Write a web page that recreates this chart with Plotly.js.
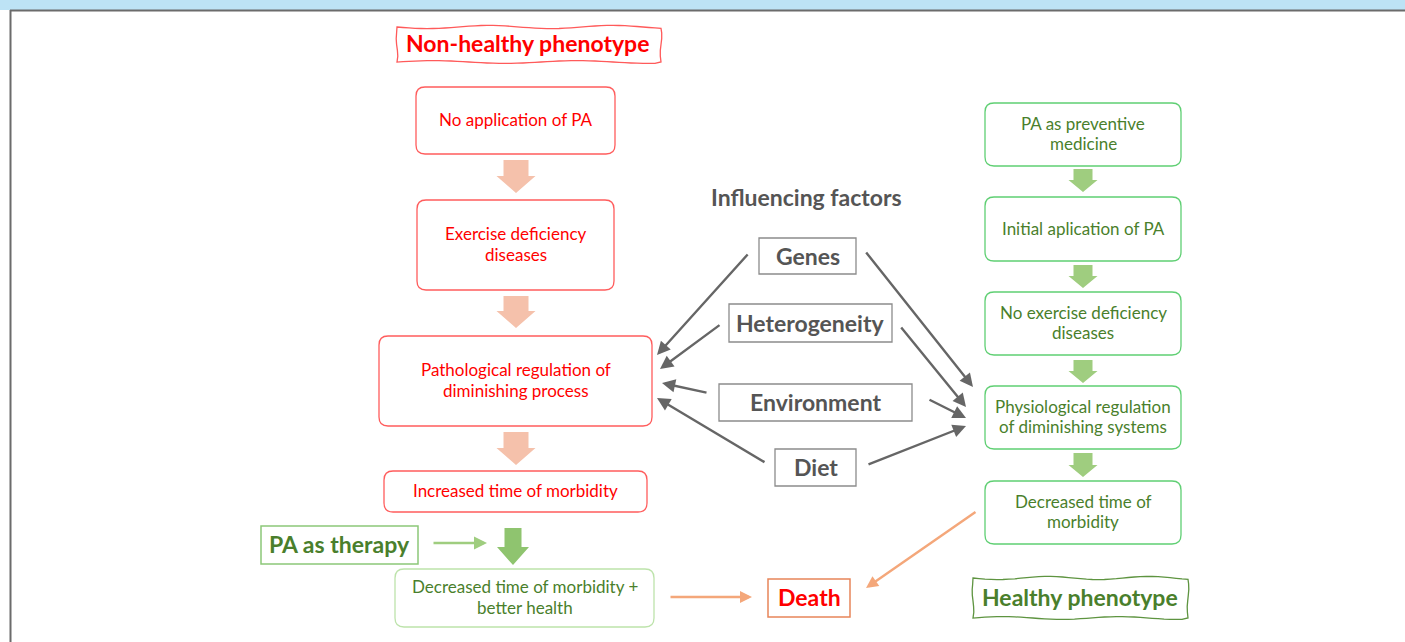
<!DOCTYPE html>
<html>
<head>
<meta charset="utf-8">
<script src="https://cdn.plot.ly/plotly-3.0.1.min.js"></script>
<style>html,body{margin:0;padding:0;background:#fff;}#chart{width:1405px;height:642px;}</style>
</head>
<body>
<div id="chart"></div>
<script>
// ---- Diagram content (text) ----
var headerRed = "Non-healthy phenotype";
var headerGreen = "Healthy phenotype";
var factorsTitle = "Influencing factors";
var redSteps = ["No application of PA", "Exercise deficiency<br>diseases", "Pathological regulation of<br>diminishing process", "Increased time of morbidity"];
var greenSteps = ["PA as preventive<br>medicine", "Initial aplication of PA", "No exercise deficiency<br>diseases", "Physiological regulation<br>of diminishing systems", "Decreased time of<br>morbidity"];
var factors = ["Genes", "Heterogeneity", "Environment", "Diet"];
var therapyLabel = "PA as therapy";
var therapyOutcome = "Decreased time of morbidity +<br>better health";
var endLabel = "Death";

// ---- Geometry (pixel layout) ----
var redBoxes = [[416,87,615,154],[417,200,614,290],[379,336,652,426],[384,471,647,512]];
var greenBoxes = [[985,103,1181,166],[985,197,1181,261],[985,292,1181,355],[985,386,1181,449],[985,481,1181,544]];
var factorBoxes = [[759,238,856,274],[729,304,892,342],[719,384,912,421],[775,449,856,486]];
var redArrowsY = [[160,193],[296,328],[432,465]];
var greenArrowsY = [[169,192],[265,288],[360,383],[453,477]];
var leftArrows = [[749,253,657,355],[721,324,660,369],[708,393,662,383],[766,463,657,398]];
var rightArrows = [[865,251,973,387],[900,326,966,407],[928,399,966,418],[867,465,966,426]];

var FONT = "Lato, 'Open Sans', sans-serif";
var RED = "#ff0000", DGREEN = "#4a7f2c", GRAY = "#555555";
var NS = 17, BS = 23, LINE = 20.5;

function roundRect(b, r){
  var x0=b[0],y0=b[1],x1=b[2],y1=b[3];
  return "M"+(x0+r)+","+y0+" L"+(x1-r)+","+y0+" Q"+x1+","+y0+" "+x1+","+(y0+r)+
    " L"+x1+","+(y1-r)+" Q"+x1+","+y1+" "+(x1-r)+","+y1+
    " L"+(x0+r)+","+y1+" Q"+x0+","+y1+" "+x0+","+(y1-r)+
    " L"+x0+","+(y0+r)+" Q"+x0+","+y0+" "+(x0+r)+","+y0+" Z";
}
function blockDown(cx, y0, y1, sw, hw, hh){
  return "M"+(cx-sw/2)+","+y0+" L"+(cx+sw/2)+","+y0+" L"+(cx+sw/2)+","+(y1-hh)+
    " L"+(cx+hw/2)+","+(y1-hh)+" L"+cx+","+y1+" L"+(cx-hw/2)+","+(y1-hh)+
    " L"+(cx-sw/2)+","+(y1-hh)+" Z";
}
function wavy(x0,y0,x1,y1){
  var pts=[], n, i, t;
  n=Math.round((x1-x0)/6);
  for(i=0;i<=n;i++){t=i/n;pts.push([x0+(x1-x0)*t, y0+1.6*Math.sin(t*Math.PI*4.3)]);}
  n=Math.round((y1-y0)/6);
  for(i=1;i<=n;i++){t=i/n;pts.push([x1+0.8*Math.sin(t*Math.PI*2), y0+(y1-y0)*t]);}
  n=Math.round((x1-x0)/6);
  for(i=1;i<=n;i++){t=i/n;pts.push([x1-(x1-x0)*t, y1+1.4*Math.sin(t*Math.PI*3.7+1)]);}
  n=Math.round((y1-y0)/6);
  for(i=1;i<n;i++){t=i/n;pts.push([x0+0.8*Math.sin(t*Math.PI*2+0.5), y1-(y1-y0)*t]);}
  return "M"+pts.map(function(p){return p[0].toFixed(1)+","+p[1].toFixed(1);}).join(" L")+" Z";
}

var shapes = [];
var ann = [];

// frame
shapes.push({type:"rect",x0:0,x1:1405,y0:0,y1:10,fillcolor:"#bde3f5",line:{width:0},layer:"below"});
shapes.push({type:"line",x0:10,x1:1410,y0:10.5,y1:10.5,line:{color:"#6b6b6b",width:2}});
shapes.push({type:"line",x0:10.5,x1:10.5,y0:10,y1:650,line:{color:"#6b6b6b",width:2}});

function text(x,y,t,size,color,bold){
  var lines = t.split("<br>");
  var n = lines.length;
  lines.forEach(function(l,i){
    var yy = y - 1 + (i-(n-1)/2)*LINE;
    ann.push({x:x,y:yy,xref:"x",yref:"y",text:bold?"<b>"+l+"</b>":l,showarrow:false,
      xanchor:"center",yanchor:"middle",font:{family:FONT,size:size,color:color}});
  });
}

// header boxes
shapes.push({type:"path",path:wavy(397,27,661,62),line:{color:"#ff5a5a",width:1.3},fillcolor:"rgba(0,0,0,0)"});
text(527,44,headerRed,BS,RED,true);
shapes.push({type:"path",path:wavy(973,578,1188,618),line:{color:"#5e9440",width:1.3},fillcolor:"rgba(0,0,0,0)"});
text(1080,598,headerGreen,BS,DGREEN,true);

// red column
redBoxes.forEach(function(b,i){
  shapes.push({type:"path",path:roundRect(b,9),line:{color:"#ff5c5c",width:1.3},fillcolor:"rgba(0,0,0,0)"});
  text((b[0]+b[2])/2,(b[1]+b[3])/2,redSteps[i],NS,RED,false);
});
redArrowsY.forEach(function(a){
  shapes.push({type:"path",path:blockDown(516,a[0],a[1],25,39,17),line:{width:0},fillcolor:"#f5c1ab"});
});

// green column
greenBoxes.forEach(function(b,i){
  shapes.push({type:"path",path:roundRect(b,9),line:{color:"#5fcf73",width:1.3},fillcolor:"rgba(0,0,0,0)"});
  text((b[0]+b[2])/2,(b[1]+b[3])/2,greenSteps[i],NS,DGREEN,false);
});
greenArrowsY.forEach(function(a){
  shapes.push({type:"path",path:blockDown(1083,a[0],a[1],19,29,12),line:{width:0},fillcolor:"#9fcd7f"});
});

// influencing factors
text(806,198,factorsTitle,BS,GRAY,true);
factorBoxes.forEach(function(b,i){
  shapes.push({type:"rect",x0:b[0],y0:b[1],x1:b[2],y1:b[3],line:{color:"#8c8c8c",width:1.3},fillcolor:"rgba(0,0,0,0)"});
  text((b[0]+b[2])/2,(b[1]+b[3])/2+0.5,factors[i],BS,GRAY,true);
});
function arrow(a,color,w,size){
  ann.push({x:a[2],y:a[3],ax:a[0],ay:a[1],xref:"x",yref:"y",axref:"x",ayref:"y",text:"",
    showarrow:true,arrowhead:2,arrowsize:size,arrowwidth:w,arrowcolor:color});
}
leftArrows.forEach(function(a){arrow(a,"#666666",2.4,1.1);});
rightArrows.forEach(function(a){arrow(a,"#666666",2.4,1.1);});

// therapy
shapes.push({type:"rect",x0:261,y0:526,x1:418,y1:564,line:{color:"#8cc878",width:1.5},fillcolor:"rgba(0,0,0,0)"});
text(339.5,545,therapyLabel,BS,DGREEN,true);
arrow([432,543,487,543],"#9fcd7f",2.6,1.0);
shapes.push({type:"path",path:blockDown(513,528,565,17,32,18),line:{width:0},fillcolor:"#8fc46f"});
shapes.push({type:"path",path:roundRect([395,569,654,627],9),line:{color:"#bde3ab",width:1.3},fillcolor:"rgba(0,0,0,0)"});
text(524.5,598,therapyOutcome,NS,DGREEN,false);

// death
shapes.push({type:"rect",x0:768,y0:579,x1:850,y1:617,line:{color:"#e8855a",width:1.5},fillcolor:"rgba(0,0,0,0)"});
text(809,598,endLabel,BS,RED,true);
arrow([669,597,752,597],"#f4a77a",2.4,1.0);
arrow([977,511,866,588],"#f4a77a",2.4,1.0);

var layout = {
  width:1405,height:642,margin:{l:0,r:0,t:0,b:0},
  paper_bgcolor:"#ffffff",plot_bgcolor:"#ffffff",showlegend:false,
  xaxis:{range:[0,1405],visible:false,fixedrange:true},
  yaxis:{range:[642,0],visible:false,fixedrange:true},
  shapes:shapes,annotations:ann
};
Plotly.newPlot("chart",[{x:[],y:[],type:"scatter",mode:"markers"}],layout,{staticPlot:true});
</script>
</body>
</html>
